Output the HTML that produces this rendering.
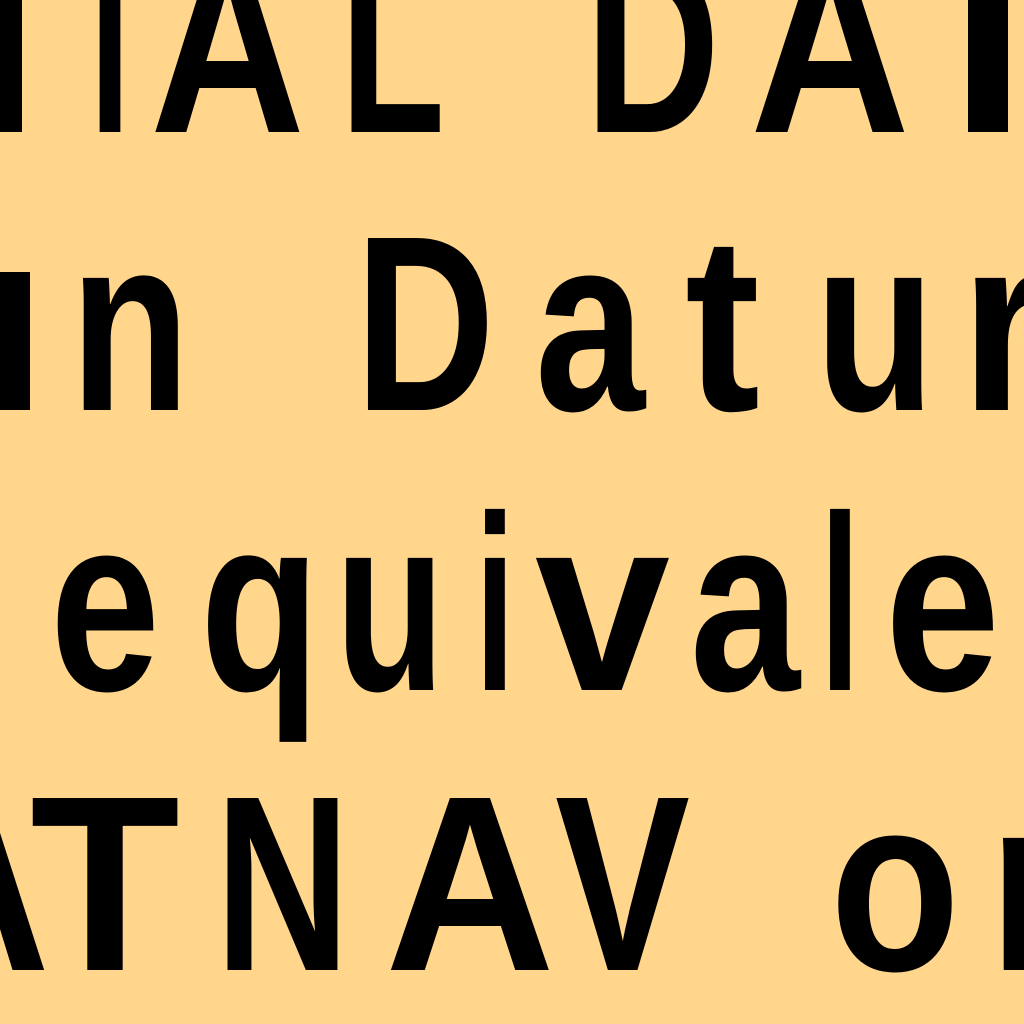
<!DOCTYPE html>
<html><head><meta charset="utf-8"><style>
html,body{margin:0;padding:0;background:#FFD68C;width:1024px;height:1024px;overflow:hidden}
svg{display:block}
text{font-family:"Liberation Sans",sans-serif;font-weight:bold;font-size:250px;fill:#000}
</style></head><body>
<svg width="1024" height="1024" viewBox="0 0 1024 1024">
<rect width="1024" height="1024" fill="#FFD68C"/>
<!-- line 1 -->
<rect x="0" y="0" width="22" height="132" fill="#000"/>
<text x="90" y="132" textLength="40" lengthAdjust="spacingAndGlyphs">I</text>
<text x="150" y="132" textLength="155" lengthAdjust="spacingAndGlyphs">A</text>
<text x="340" y="132" textLength="105" lengthAdjust="spacingAndGlyphs">L</text>
<text x="585" y="132" textLength="135" lengthAdjust="spacingAndGlyphs">D</text>
<text x="750" y="132" textLength="160" lengthAdjust="spacingAndGlyphs">A</text>
<rect x="968" y="0" width="40" height="132" fill="#000"/>
<!-- line 2 -->
<rect x="0" y="272" width="30" height="138" fill="#000"/>
<text x="70" y="410" textLength="120" lengthAdjust="spacingAndGlyphs">n</text>
<text x="355" y="410" textLength="140" lengthAdjust="spacingAndGlyphs">D</text>
<text x="535" y="410" textLength="110" lengthAdjust="spacingAndGlyphs">a</text>
<text x="685" y="410" textLength="75" lengthAdjust="spacingAndGlyphs">t</text>
<text x="815" y="410" textLength="120" lengthAdjust="spacingAndGlyphs">u</text>
<text x="960" y="410" textLength="90" lengthAdjust="spacingAndGlyphs">r</text>
<!-- line 3 -->
<text x="50" y="690" textLength="110" lengthAdjust="spacingAndGlyphs">e</text>
<text x="200" y="690" textLength="120" lengthAdjust="spacingAndGlyphs">q</text>
<text x="335" y="690" textLength="110" lengthAdjust="spacingAndGlyphs">u</text>
<text x="475" y="690" textLength="40" lengthAdjust="spacingAndGlyphs">i</text>
<text x="535" y="690" textLength="135" lengthAdjust="spacingAndGlyphs">v</text>
<text x="690" y="690" textLength="110" lengthAdjust="spacingAndGlyphs">a</text>
<text x="820" y="690" textLength="40" lengthAdjust="spacingAndGlyphs">l</text>
<text x="885" y="690" textLength="115" lengthAdjust="spacingAndGlyphs">e</text>
<!-- line 4 -->
<text x="-110" y="970" textLength="160" lengthAdjust="spacingAndGlyphs">A</text>
<text x="30" y="970" textLength="150" lengthAdjust="spacingAndGlyphs">T</text>
<text x="215" y="970" textLength="135" lengthAdjust="spacingAndGlyphs">N</text>
<text x="385" y="970" textLength="170" lengthAdjust="spacingAndGlyphs">A</text>
<text x="555" y="970" textLength="135" lengthAdjust="spacingAndGlyphs">V</text>
<text x="830" y="970" textLength="130" lengthAdjust="spacingAndGlyphs">o</text>
<text x="990" y="970" textLength="120" lengthAdjust="spacingAndGlyphs">n</text>
</svg>
</body></html>
